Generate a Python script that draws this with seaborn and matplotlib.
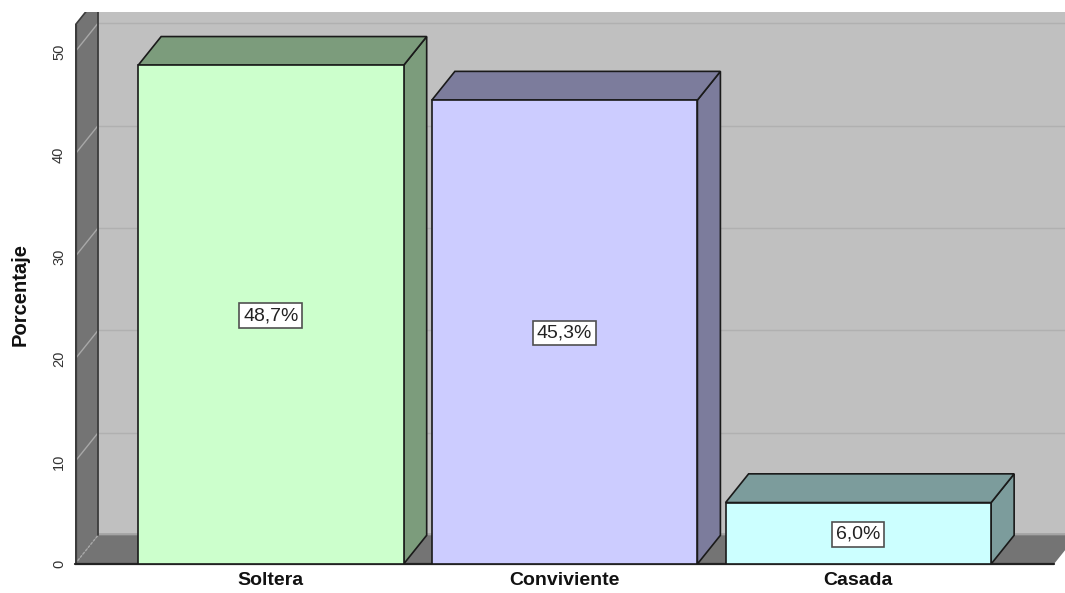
import matplotlib
matplotlib.use("Agg")
import matplotlib.pyplot as plt
from matplotlib.patches import Polygon
import seaborn as sns
import pandas as pd

categories = ["Soltera", "Conviviente", "Casada"]
values = [48.7, 45.3, 6.0]
labels = ["48,7%", "45,3%", "6,0%"]
yticks = [0, 10, 20, 30, 40, 50]
front_colors = ["#CCFFCC", "#CCCCFF", "#CCFFFF"]
side_colors = ["#7C9C7C", "#7C7C9C", "#7C9C9C"]

sns.set_theme(style="white")
plt.rcParams["font.family"] = ["Liberation Sans", "DejaVu Sans"]

W, H = 1065, 593
fig = plt.figure(figsize=(W / 100, H / 100), dpi=100, facecolor="white")
ax = fig.add_axes([75 / W, 1 - 564 / H, (W - 75) / W, (564 - 12) / H])

df = pd.DataFrame({"cat": categories, "val": values})
sns.barplot(data=df, x="cat", y="val", hue="cat", order=categories, hue_order=categories,
            palette=front_colors, legend=False, width=0.904, saturation=1,
            edgecolor="#1a1a1a", linewidth=1.2, ax=ax, zorder=5)
bars = [p for p in ax.patches if p.get_zorder() == 5]

XL, XR, YT = -0.667, 2.7035, 53.9
ax.set_xlim(XL, XR)
ax.set_ylim(0, YT)
DX, DY = 23 / 293.7, 28.7 / 10.24
FLOOR_R = 2.666
WALL_T = 52.6
EDGE = "#1a1a1a"
WALL_EDGE = "#3c3c3c"

# back wall
ax.add_patch(Polygon([(XL + DX, DY), (XR + 1, DY), (XR + 1, YT + 5), (XL + DX, YT + 5)],
                     fc="#C0C0C0", ec="none", zorder=0.5))
# grid lines on back wall
for t in yticks:
    if t > 0:
        ax.plot([XL + DX, XR + 1], [t + DY, t + DY], color="#B0B0B0", lw=1.0, zorder=0.7)
# lighter band above the floor
ax.plot([XL + DX, XR + 1], [DY + 0.15, DY + 0.15], color="#A4A4A4", lw=2, zorder=0.7)
# left wall
ax.add_patch(Polygon([(XL, 0), (XL + DX, DY), (XL + DX, WALL_T + DY), (XL, WALL_T)],
                     fc="#747474", ec="none", zorder=1))
# floor
ax.add_patch(Polygon([(XL, 0), (XL + DX, DY), (FLOOR_R + DX, DY), (FLOOR_R, 0)],
                     fc="#747474", ec="none", zorder=1))
for t in yticks:
    ax.plot([XL, XL + DX], [t, t + DY], color="#A8A8A8", lw=1, zorder=1.1,
            ls=(0, (2, 1)) if t == 0 else "-")
# wall edges
ax.plot([XL + DX, XL + DX], [DY, YT + 5], color=WALL_EDGE, lw=1.3, zorder=1.2)
ax.plot([XL, XL + DX], [WALL_T, WALL_T + DY], color=WALL_EDGE, lw=1.2, zorder=1.2)
ax.plot([XL + 0.002, XL + 0.002], [0, WALL_T], color=WALL_EDGE, lw=1.6, zorder=1.2)
ax.plot([XL, FLOOR_R], [0, 0], color="#222222", lw=1.6, zorder=1.2, clip_on=False)

# 3D sides and tops of the bars, derived from the bars themselves
for bar, v, lab, c in zip(bars, values, labels, side_colors):
    x0, x1 = bar.get_x(), bar.get_x() + bar.get_width()
    ax.add_patch(Polygon([(x1, 0), (x1 + DX, DY), (x1 + DX, v + DY), (x1, v)],
                         fc=c, ec=EDGE, lw=1.2, zorder=4))
    ax.add_patch(Polygon([(x0, v), (x0 + DX, v + DY), (x1 + DX, v + DY), (x1, v)],
                         fc=c, ec=EDGE, lw=1.2, zorder=4))
    ax.annotate(lab, ((x0 + x1) / 2, v / 2), xytext=(0, -0.7), textcoords="offset points",
                ha="center", va="center", fontsize=14, color="#222222", zorder=6,
                bbox=dict(boxstyle="square,pad=0.2", fc="white", ec="#505050", lw=1.2))

sns.despine(ax=ax, left=True, bottom=True, top=True, right=True)
ax.set_yticks(yticks)
ax.set_yticklabels([str(t) for t in yticks], rotation=90, va="center", fontsize=10.5, color="#333333")
ax.tick_params(axis="y", length=0, pad=6.4)
ax.set_xticks(range(3))
ax.set_xticklabels(categories, fontsize=14, fontweight="bold", color="#111111")
ax.tick_params(axis="x", length=0, pad=6)
ax.set_xlabel("")
ax.set_ylabel("")
fig.text(20 / W, 1 - 294 / H, "Porcentaje", rotation=90, ha="center", va="center",
         fontsize=14.5, fontweight="bold", color="#111111")

fig.savefig("out.png", dpi=100)
